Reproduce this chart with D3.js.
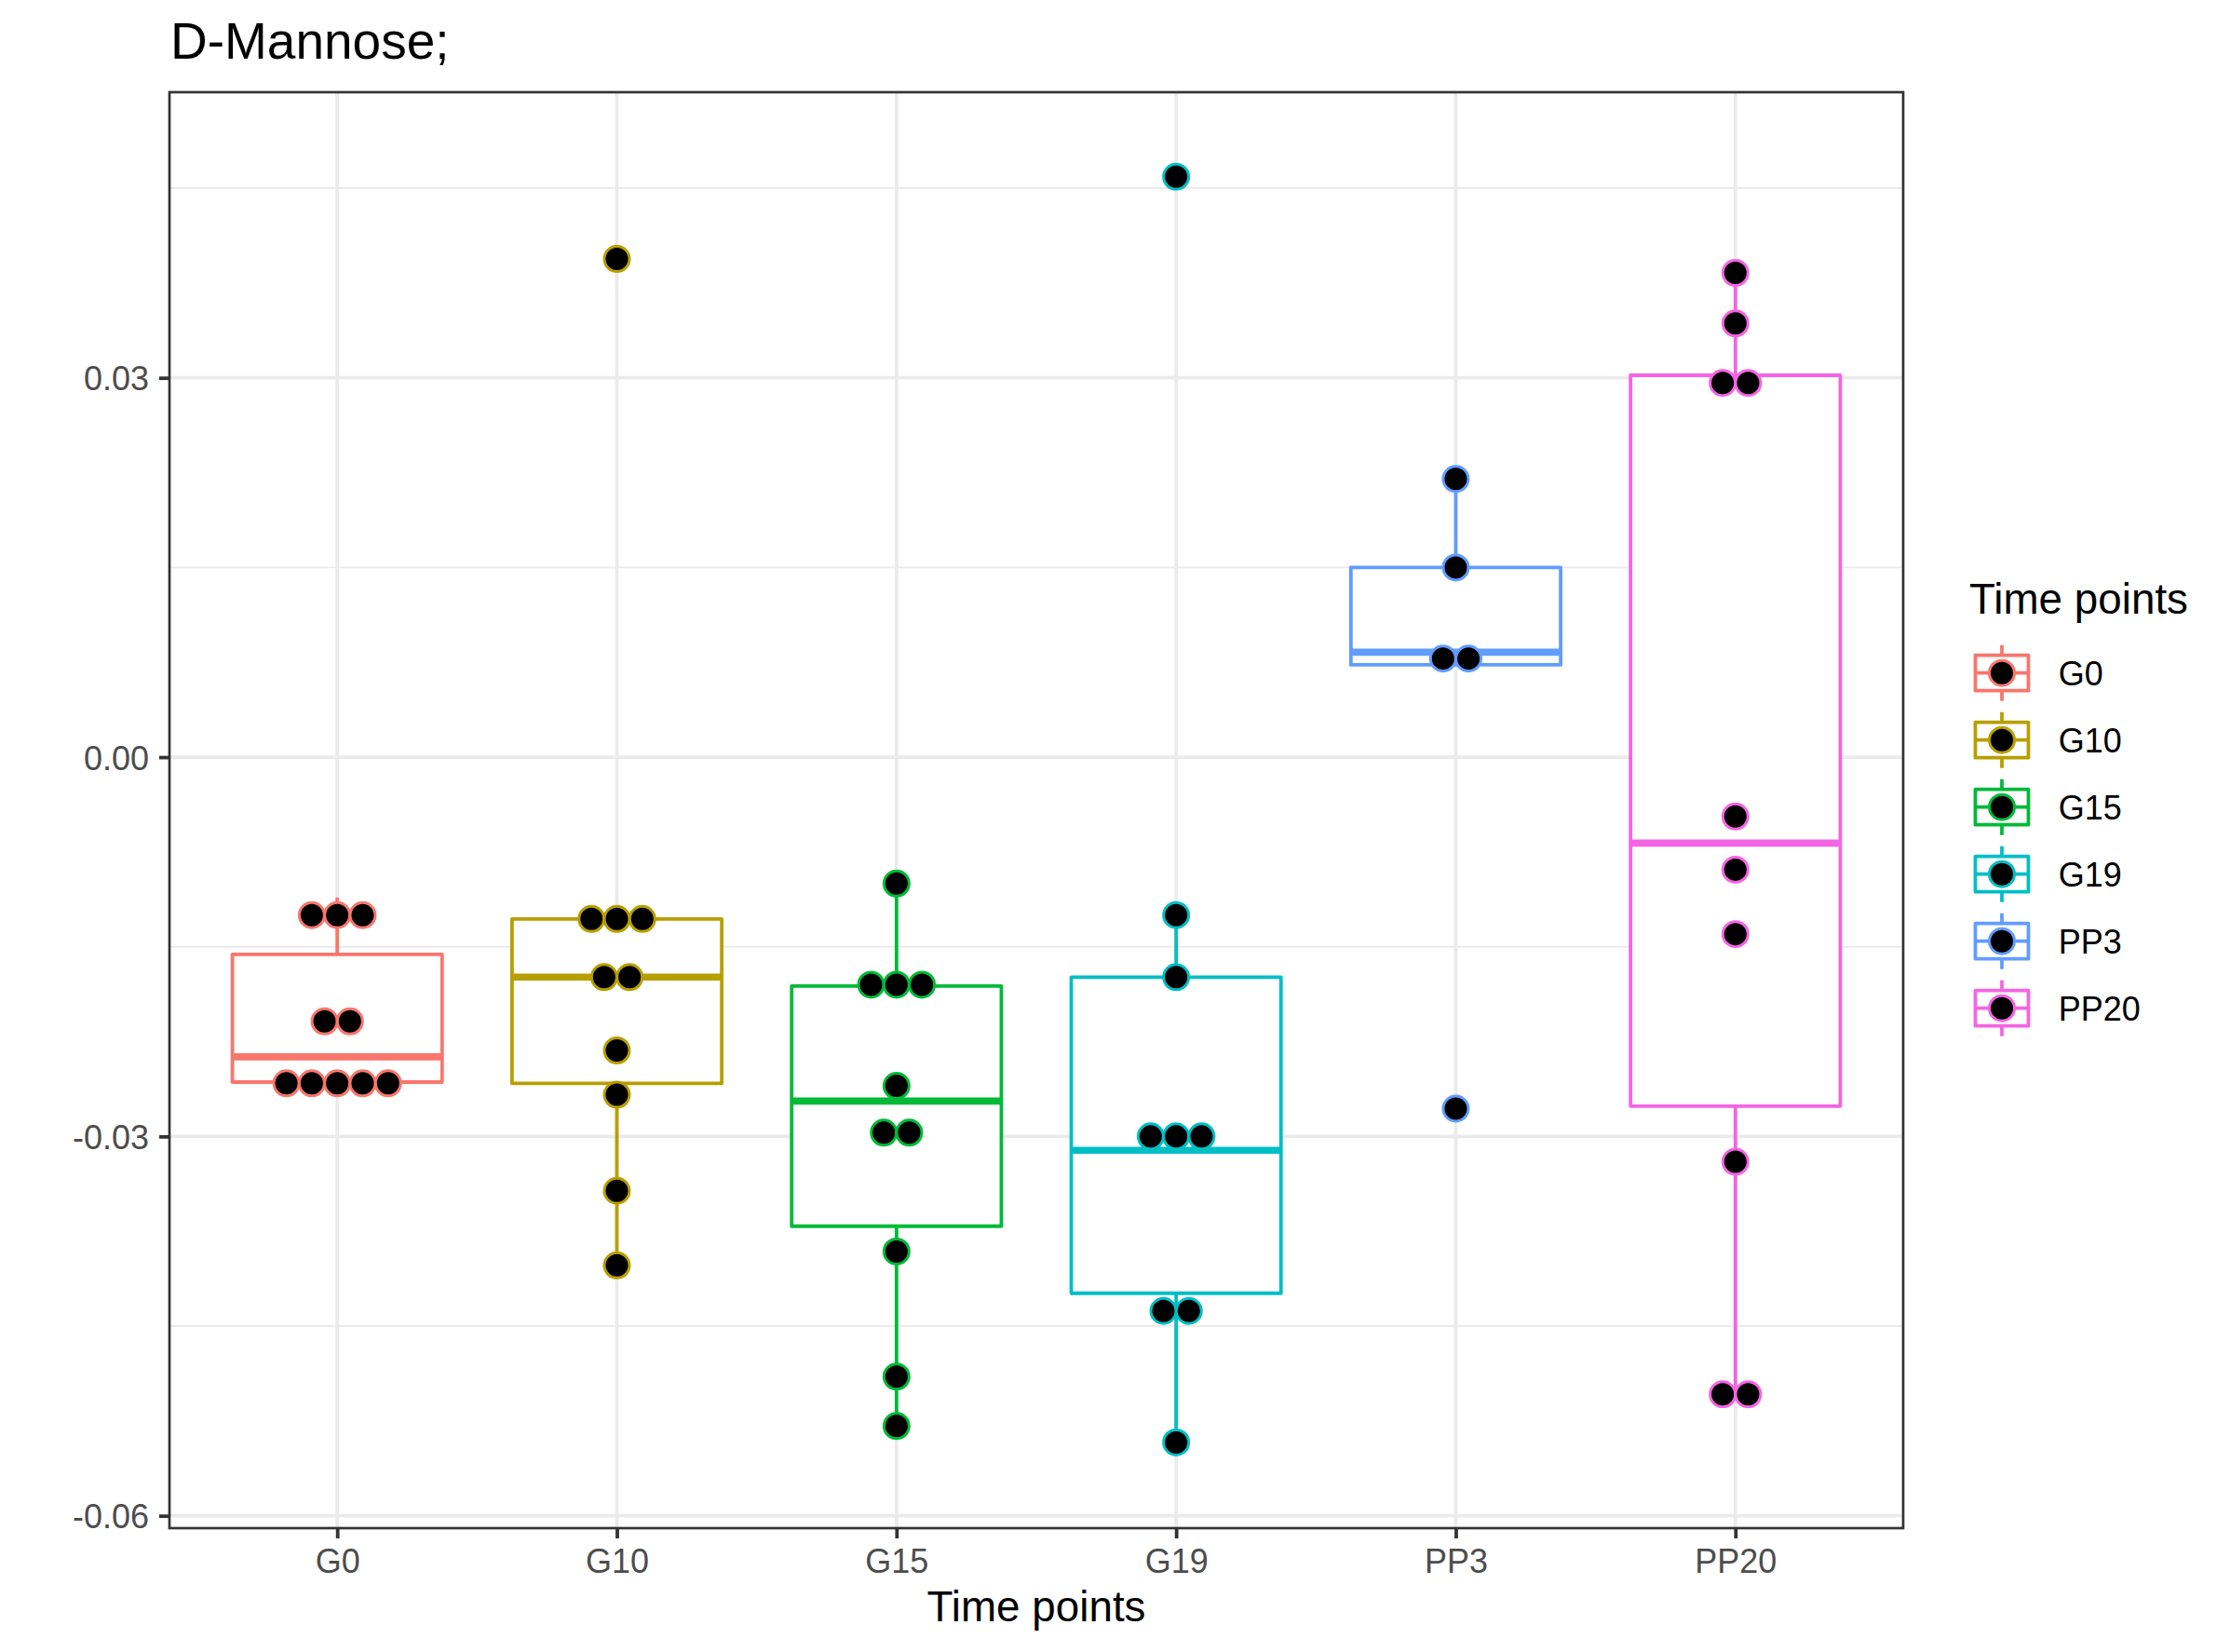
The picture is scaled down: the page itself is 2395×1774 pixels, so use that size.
<!DOCTYPE html>
<html>
<head>
<meta charset="utf-8">
<script src="https://cdn.jsdelivr.net/npm/d3@7"></script>
<style>
  html, body { margin: 0; padding: 0; background: #fff; }
  svg { display: block; font-family: "Liberation Sans", Arial, Helvetica, sans-serif; }
</style>
</head>
<body>
<svg id="chart" width="2395" height="1774"></svg>
<script>
// ---------- data ----------
const categories = ["G0", "G10", "G15", "G19", "PP3", "PP20"];
const colors = ["#F8766D", "#B79F00", "#00BA38", "#00BFC4", "#619CFF", "#F564E3"];

// box-plot summaries (lower whisker, Q1, median, Q3, upper whisker)
const whiskerLow  = [-0.0258, -0.0402, -0.0529, -0.0542, 0.0073, -0.0504];
const quart1      = [-0.0257, -0.0258, -0.0371, -0.0424, 0.0073, -0.0276];
const medians     = [-0.0237, -0.0174, -0.0272, -0.0311, 0.0083, -0.0068];
const quart3      = [-0.0156, -0.0128, -0.0181, -0.0174, 0.0150, 0.0302];
const whiskerHigh = [-0.0111, -0.0128, -0.0100, -0.0125, 0.0220, 0.0383];

// dot-plot points (binned centres) for each time point
const dotsG0   = [-0.0125, -0.0125, -0.0125, -0.0209, -0.0209, -0.0258, -0.0258, -0.0258, -0.0258, -0.0258];
const dotsG10  = [0.0394, -0.0128, -0.0128, -0.0128, -0.0174, -0.0174, -0.0232, -0.0267, -0.0343, -0.0402];
const dotsG15  = [-0.0100, -0.0180, -0.0180, -0.0180, -0.0260, -0.0297, -0.0297, -0.0391, -0.0490, -0.0529];
const dotsG19  = [0.0459, -0.0125, -0.0174, -0.0300, -0.0300, -0.0300, -0.0438, -0.0438, -0.0542];
const dotsPP3  = [0.0220, 0.0150, 0.0078, 0.0078, -0.0278];
const dotsPP20 = [0.0383, 0.0343, 0.0296, 0.0296, -0.0047, -0.0089, -0.0140, -0.0320, -0.0504, -0.0504];
const dotSets = [dotsG0, dotsG10, dotsG15, dotsG19, dotsPP3, dotsPP20];

const yMajorTicks = [-0.06, -0.03, 0.00, 0.03];
const yMinorTicks = [-0.045, -0.015, 0.015, 0.045];

const titleText = "D-Mannose;";
const xTitle = "Time points";
const legendTitle = "Time points";

// ---------- layout ----------
const panel = { left: 182, right: 2044, top: 99, bottom: 1641 };
const svg = d3.select("#chart");

const x = d3.scalePoint().domain(categories).range([panel.left, panel.right]).padding(0.6);
const step = x.step();
const y = d3.scaleLinear().domain([-0.06098, 0.05259]).range([panel.bottom, panel.top]);

const boxW = step * 0.75;
const lineW = 3.8;
const dotR = 13.5;
const dotSpacing = 27.3;

// background
svg.append("rect").attr("x", 0).attr("y", 0).attr("width", 2395).attr("height", 1774).attr("fill", "#fff");

// grid
const grid = svg.append("g");
grid.selectAll(".minor").data(yMinorTicks).join("line")
  .attr("x1", panel.left).attr("x2", panel.right)
  .attr("y1", d => y(d)).attr("y2", d => y(d))
  .attr("stroke", "#EBEBEB").attr("stroke-width", 1.9);
grid.selectAll(".major").data(yMajorTicks).join("line")
  .attr("x1", panel.left).attr("x2", panel.right)
  .attr("y1", d => y(d)).attr("y2", d => y(d))
  .attr("stroke", "#EBEBEB").attr("stroke-width", 3.8);
grid.selectAll(".vmajor").data(categories).join("line")
  .attr("x1", d => x(d)).attr("x2", d => x(d))
  .attr("y1", panel.top).attr("y2", panel.bottom)
  .attr("stroke", "#EBEBEB").attr("stroke-width", 3.8);

// boxplots
const boxes = svg.append("g");
categories.forEach((c, i) => {
  const cx = x(c);
  const g = boxes.append("g");
  const col = colors[i];
  // whiskers
  g.append("line").attr("x1", cx).attr("x2", cx)
    .attr("y1", y(quart3[i])).attr("y2", y(whiskerHigh[i]))
    .attr("stroke", col).attr("stroke-width", lineW);
  g.append("line").attr("x1", cx).attr("x2", cx)
    .attr("y1", y(quart1[i])).attr("y2", y(whiskerLow[i]))
    .attr("stroke", col).attr("stroke-width", lineW);
  // box
  g.append("rect")
    .attr("x", cx - boxW / 2).attr("width", boxW)
    .attr("y", y(quart3[i])).attr("height", y(quart1[i]) - y(quart3[i]))
    .attr("fill", "#fff").attr("stroke", col).attr("stroke-width", lineW)
    .attr("stroke-linejoin", "round");
  // median
  g.append("line")
    .attr("x1", cx - boxW / 2).attr("x2", cx + boxW / 2)
    .attr("y1", y(medians[i])).attr("y2", y(medians[i]))
    .attr("stroke", col).attr("stroke-width", lineW * 2);
});

// dots
const dotsG = svg.append("g");
categories.forEach((c, i) => {
  const bins = d3.groups(dotSets[i], v => v);
  bins.forEach(([v, arr]) => {
    const n = arr.length;
    arr.forEach((_, k) => {
      dotsG.append("circle")
        .attr("cx", x(c) + (k - (n - 1) / 2) * dotSpacing)
        .attr("cy", y(v))
        .attr("r", dotR)
        .attr("fill", "#000")
        .attr("stroke", colors[i])
        .attr("stroke-width", 3);
    });
  });
});

// panel border
svg.append("rect")
  .attr("x", panel.left).attr("y", panel.top)
  .attr("width", panel.right - panel.left).attr("height", panel.bottom - panel.top)
  .attr("fill", "none").attr("stroke", "#333333").attr("stroke-width", 2.7);

// axes
const fmt = d => d.toFixed(2);
const yAxis = svg.append("g").attr("transform", `translate(${panel.left},0)`)
  .call(d3.axisLeft(y).tickValues(yMajorTicks).tickFormat(fmt).tickSize(11).tickPadding(11).tickSizeOuter(0));
const xAxis = svg.append("g").attr("transform", `translate(0,${panel.bottom})`)
  .call(d3.axisBottom(x).tickSize(11).tickPadding(11).tickSizeOuter(0));
[yAxis, xAxis].forEach(a => {
  a.select(".domain").remove();
  a.selectAll(".tick line").attr("stroke", "#333333").attr("stroke-width", 3.8);
  a.selectAll(".tick text").attr("fill", "#4D4D4D")
    .style("font-size", "36px").style("font-family", "'Liberation Sans', Arial, sans-serif");
});
yAxis.selectAll(".tick text").attr("dy", "0.36em");

// title
svg.append("text").attr("x", 183).attr("y", 63)
  .style("font-size", "55px").attr("fill", "#000").text(titleText);

// x axis title
svg.append("text").attr("x", (panel.left + panel.right) / 2).attr("y", 1741)
  .attr("text-anchor", "middle").style("font-size", "45.8px").attr("fill", "#000").text(xTitle);

// legend
const leg = svg.append("g");
leg.append("text").attr("x", 2115).attr("y", 659)
  .style("font-size", "45.8px").attr("fill", "#000").text(legendTitle);
const legY0 = 722.7, legStep = 72;
const keyCx = 2150, keyW = 57, keyH = 38;
categories.forEach((c, i) => {
  const cy = legY0 + i * legStep;
  const g = leg.append("g");
  const col = colors[i];
  g.append("line").attr("x1", keyCx).attr("x2", keyCx).attr("y1", cy - 30).attr("y2", cy - keyH / 2)
    .attr("stroke", col).attr("stroke-width", lineW);
  g.append("line").attr("x1", keyCx).attr("x2", keyCx).attr("y1", cy + keyH / 2).attr("y2", cy + 30)
    .attr("stroke", col).attr("stroke-width", lineW);
  g.append("rect").attr("x", keyCx - keyW / 2).attr("y", cy - keyH / 2)
    .attr("width", keyW).attr("height", keyH)
    .attr("fill", "#fff").attr("stroke", col).attr("stroke-width", lineW).attr("stroke-linejoin", "round");
  g.append("line").attr("x1", keyCx - keyW / 2).attr("x2", keyCx + keyW / 2).attr("y1", cy).attr("y2", cy)
    .attr("stroke", col).attr("stroke-width", lineW);
  g.append("circle").attr("cx", keyCx).attr("cy", cy).attr("r", dotR)
    .attr("fill", "#000").attr("stroke", col).attr("stroke-width", 3);
  g.append("text").attr("x", 2210.7).attr("y", cy + 13)
    .style("font-size", "36px").attr("fill", "#000").text(c);
});
</script>
</body>
</html>
